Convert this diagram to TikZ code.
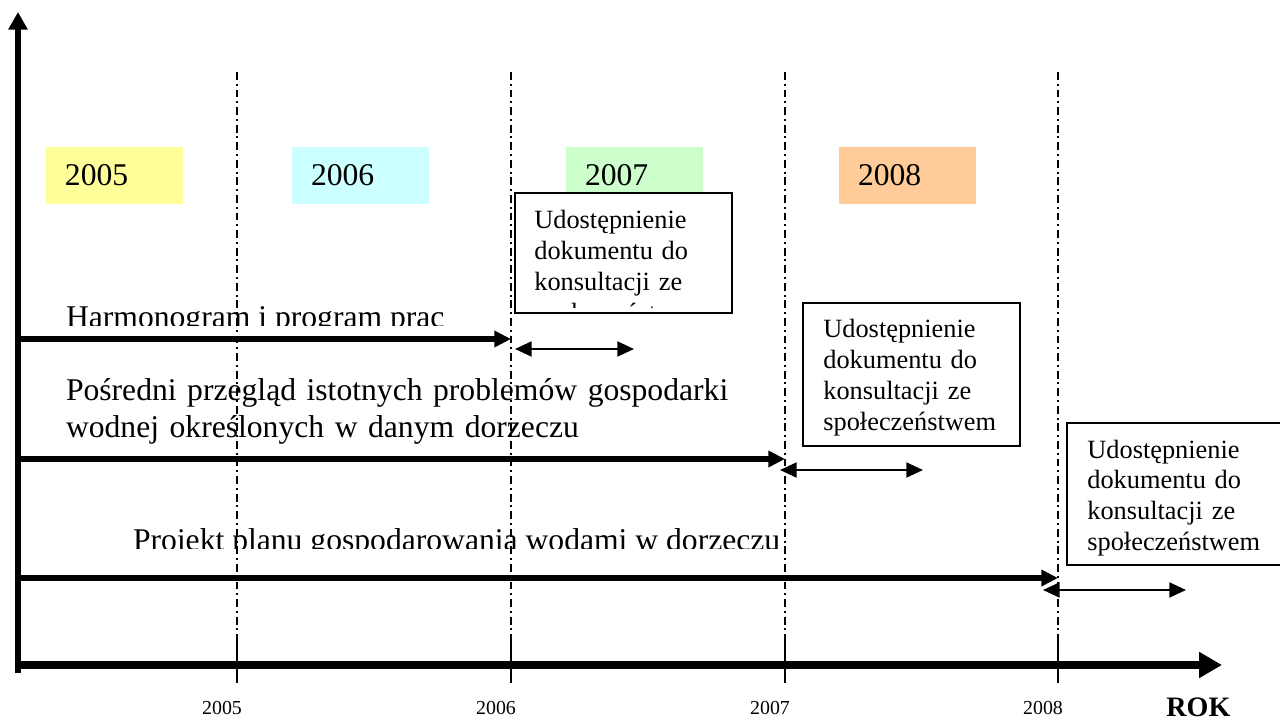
\documentclass[tikz,border=0pt]{standalone}
\usepackage{fontspec}
\setmainfont{Liberation Serif}
\usetikzlibrary{arrows,arrows.meta,shapes,positioning,calc}

\definecolor{yr2005}{RGB}{255,255,153}
\definecolor{yr2006}{RGB}{204,255,255}
\definecolor{yr2007}{RGB}{204,255,204}
\definecolor{yr2008}{RGB}{255,204,153}

\begin{document}
\begin{tikzpicture}[x=0.02cm,y=-0.02cm]
\tikzset{
  basic/.style     = {inner sep=0pt, outer sep=0pt, font=\fontsize{18pt}{21.5pt}\selectfont},
  yearbox/.style   = {basic, anchor=north west, minimum width=2.74cm, minimum height=1.14cm,
                      inner xsep=0.38cm, text width=1.98cm, align=left},
  tasktext/.style  = {basic, anchor=base west},
  msgbox/.style    = {draw, fill=white, line width=1.2pt, anchor=north west,
                      minimum width=4.34cm, inner sep=0pt},
  msgtext/.style   = {inner sep=0pt, anchor=base west, text width=3.9cm, align=left,
                      font=\fontsize{15pt}{17.5pt}\selectfont},
  ticklabel/.style = {inner sep=0pt, anchor=base, font=\fontsize{11.3pt}{13pt}\selectfont},
  yearline/.style  = {line width=1pt, dash pattern=on 4.5pt off 2.2pt on 1.1pt off 2.2pt},
  vaxis/.style     = {line width=3.4pt, -{Triangle[length=10pt,width=10.5pt]}},
  haxis/.style     = {line width=4pt, -{Triangle[length=13pt,width=14pt]}},
  taskarrow/.style = {line width=3pt, -{Triangle[length=9.5pt,width=9pt]}},
  consult/.style   = {line width=1.3pt, {Triangle[length=9.5pt,width=8.5pt]}-{Triangle[length=9.5pt,width=8.5pt]}}
}
\useasboundingbox (0,0) rectangle (1280,722);

% coloured years
\node[yearbox, fill=yr2005] (y1) at (46,147) {2005};
\node[yearbox, fill=yr2006] (y2) at (292,147) {2006};
\node[yearbox, fill=yr2007] (y3) at (566,147) {2007};
\node[yearbox, fill=yr2008] (y4) at (839,147) {2008};

% year lines and labels on the axis
\foreach \x/\n in {237/2005, 511/2006, 785/2007, 1058/2008} {
  \coordinate (top\n) at (\x,72);
  \coordinate (mid\n) at (\x,640);
  \coordinate (bot\n) at (\x,683);
  \draw[yearline] (top\n) -- (mid\n);
  \draw[line width=1pt] (mid\n) -- (bot\n);
  \node[ticklabel] (lab\n) at (\x-15,714) {\n};
}

% axes
\coordinate (o) at (18,673);
\coordinate (ytop) at (18,12);
\coordinate (xo) at (15,665);
\coordinate (xend) at (1222,665);
\draw[vaxis] (o) -- (ytop);
\draw[haxis] (xo) -- (xend);
\node[inner sep=0pt, anchor=base west, font=\fontsize{16pt}{18pt}\selectfont\bfseries] (rok) at (1166,716) {ROK};

% tasks
\begin{scope}
  \clip (0,0) rectangle (800,326);
  \node[tasktext] (t1) at (66,328) {Harmonogram i program prac};
\end{scope}
\node[tasktext, text width=14cm, align=left] (t2) at (66,400)
  {Pośredni przegląd istotnych problemów gospodarki\\wodnej określonych w danym dorzeczu};
\begin{scope}
  \clip (0,0) rectangle (900,548);
  \node[tasktext] (t3) at (133,550) {Projekt planu gospodarowania wodami w dorzeczu};
\end{scope}

\coordinate (s1) at (18,339);  \coordinate (e1) at (511,339);
\coordinate (s2) at (18,459);  \coordinate (e2) at (785,459);
\coordinate (s3) at (18,578);  \coordinate (e3) at (1058,578);
\draw[taskarrow] (s1) -- (e1);
\draw[taskarrow] (s2) -- (e2);
\draw[taskarrow] (s3) -- (e3);

% consultations
\coordinate (c1a) at (515,349);  \coordinate (c1b) at (634,349);
\coordinate (c2a) at (780,470);  \coordinate (c2b) at (923,470);
\coordinate (c3a) at (1043,590); \coordinate (c3b) at (1186,590);
\draw[consult] (c1a) -- (c1b);
\draw[consult] (c2a) -- (c2b);
\draw[consult] (c3a) -- (c3b);

\node[msgbox, minimum height=2.4cm] (m1) at (514,192) {};
\begin{scope}
  \clip (m1.north west) rectangle ($(m1.south east)+(0,-7)$);
  \node[msgtext] (m1t) at ($(m1.north west)+(20,37)$)
    {Udostępnienie\\dokumentu do\\konsultacji ze\\społeczeństwem};
\end{scope}
\node[msgbox, minimum height=2.86cm] (m2) at (802,302) {};
\node[msgtext] (m2t) at ($(m2.north west)+(21,36)$)
  {Udostępnienie\\dokumentu do\\konsultacji ze\\społeczeństwem};
\node[msgbox, minimum height=2.84cm] (m3) at (1066,422) {};
\node[msgtext] (m3t) at ($(m3.north west)+(21,36)$)
  {Udostępnienie\\dokumentu do\\konsultacji ze\\społeczeństwem};
\end{tikzpicture}
\end{document}
